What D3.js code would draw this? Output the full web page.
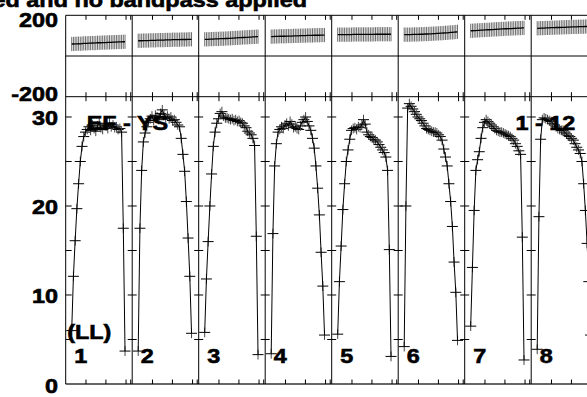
<!DOCTYPE html>
<html><head><meta charset="utf-8">
<script src="https://cdn.jsdelivr.net/npm/d3@7/dist/d3.min.js"></script>
<style>body{margin:0;background:#fff}svg{display:block}</style>
</head><body><svg id="c" width="587" height="397"></svg>
<script>
// ---- data ----
const panelLabels = ["1","2","3","4","5","6","7","8"];
const amp1 = [6.0,12.1,16.1,19.7,22.5,25.0,26.7,27.8,28.3,28.6,28.9,28.5,29.1,28.7,28.4,29.0,29.3,28.8,28.6,29.2,29.0,28.7,29.3,28.9,29.1,28.8,28.9,28.6,28.7,28.3,17.5,3.7];
const amp2 = [3.7,17.5,24.0,27.2,28.2,28.9,29.4,29.8,30.1,29.6,30.2,30.0,29.7,30.4,30.8,30.3,29.9,30.1,29.8,30.0,29.6,29.7,29.4,29.1,28.9,27.6,25.8,23.9,20.5,16.4,12.1,5.7];
const amp3 = [5.8,11.8,16.0,20.0,23.6,26.7,28.3,29.3,29.8,30.4,30.6,30.1,29.9,29.9,29.8,29.7,29.8,29.6,29.7,29.5,29.6,29.4,29.3,29.0,28.8,28.4,28.2,28.0,27.6,26.8,16.6,3.3];
const amp4 = [3.4,16.9,24.5,27.0,28.3,28.6,28.9,28.7,29.1,29.3,29.0,29.5,29.2,28.8,28.9,28.7,28.6,29.0,29.4,29.7,30.0,29.5,29.0,28.5,27.6,26.5,24.5,22.0,19.0,14.8,11.0,5.5];
const amp5 = [5.6,11.5,15.5,19.6,22.5,25.0,26.3,27.5,28.5,28.7,28.8,28.6,28.9,28.8,29.1,29.7,29.2,28.3,28.0,27.8,27.7,27.5,27.4,27.2,26.9,26.6,26.3,26.0,25.5,24.0,15.1,3.1];
const amp6 = [4.2,20.0,31.0,31.5,31.2,30.9,30.6,30.3,30.0,29.8,29.6,29.3,29.0,28.7,28.6,28.5,28.4,28.3,28.3,28.2,28.0,27.8,27.4,26.4,25.5,24.5,22.5,20.5,17.7,13.7,10.3,4.9];
const amp7 = [6.5,13.1,19.5,24.0,25.2,26.1,27.6,28.8,29.4,29.7,29.5,29.3,29.1,28.9,28.7,28.5,28.4,28.3,28.3,28.2,28.1,28.0,27.9,27.8,27.6,27.4,27.0,26.7,26.2,25.8,16.5,2.7];
const amp8 = [3.9,18.8,27.5,29.7,29.9,29.8,29.7,29.6,29.5,29.3,29.1,28.9,28.7,28.6,28.5,28.5,28.3,28.1,27.9,27.8,27.6,27.4,27.0,26.6,26.3,25.9,25.0,22.5,19.5,15.8,11.5,5.5];
const ph1 = [59,59,60,60,61,60,61,62,62,62,63,63,64,63,64,65,65,65,66,66,66,67,67,67,68,68,68,69,69,69,70,70];
const ph2 = [75,75,75,76,76,76,76,77,77,77,77,78,78,78,78,78,79,79,79,79,80,80,80,80,80,81,81,81,81,82,82,82];
const ph3 = [82,82,82,83,83,83,84,84,84,85,85,85,86,86,87,87,88,88,89,89,90,90,91,91,92,92,93,93,94,94,95,95];
const ph4 = [95,95,96,96,96,97,97,97,97,98,98,98,98,99,99,99,99,100,100,100,100,101,101,101,101,102,102,102,102,103,103,103];
const ph5 = [105,105,105,105,105,105,105,105,105,106,106,106,106,106,106,106,106,106,106,106,106,106,107,107,107,107,107,107,107,107,107,107];
const ph6 = [105,105,105,105,105,106,106,106,106,107,107,107,108,108,108,109,109,110,110,111,111,112,112,113,114,114,115,116,116,117,118,119];
const ph7 = [124,124,125,125,126,126,127,127,128,128,129,129,130,130,131,131,132,132,133,133,134,134,135,135,135,136,136,137,137,137,138,138];
const ph8 = [136,136,137,137,137,138,138,138,139,139,139,140,140,140,141,141,141,142,142,142,143,143,143,143,144,144,144,144,145,145,145,146];
const ampSeries = [amp1,amp2,amp3,amp4,amp5,amp6,amp7,amp8];
const phaseSeries = [ph1,ph2,ph3,ph4,ph5,ph6,ph7,ph8];
const ampTickValues = [5,10,15,20,25,30];
const ampLabelValues = [0,10,20,30];
const phaseLineValues = [200,0,-200];
const phaseLabelValues = [200,-200];
const xTickChannels = [8.3,19.9,31.6,34.3];
const ampErr = 0.55;
const phaseErr = 35;
const titleText = "ed and no bandpass applied";
const sourceText = "EF - YS";
const polText = "(LL)";
const ifRangeText = "1 - 12";

// ---- drawing ----
const W = 587, H = 397;
const svg = d3.select("#c");
svg.append("rect").attr("width", W).attr("height", H).attr("fill", "#fff");
const nBoxes = 9;
const panelX = d3.scaleLinear().domain([0, 9]).range([65.7, 664.2]);
const chanX = d3.scaleLinear().domain([-3.49, 35.17]).range([0, 66.5]);
const px = (p, c) => panelX(p) + chanX(c);
const yAmp = d3.scaleLinear().domain([0, 32.28]).range([384, 96.7]);
const yPh = d3.scaleLinear().domain([-200, 200]).range([96.7, 15.3]);
const xL = panelX(0), xEnd = panelX(nBoxes);

const g = svg.append("g").attr("stroke", "#000").attr("stroke-width", 1).attr("fill", "none");
function seg(x1, y1, x2, y2, col, w) {
  g.append("line").attr("x1", x1).attr("y1", y1).attr("x2", x2).attr("y2", y2)
    .attr("stroke", col || "#000").attr("stroke-width", w || 1);
}
// frames
phaseLineValues.forEach(v => seg(xL, yPh(v), xEnd, yPh(v)));
seg(xL, yAmp(0), xEnd, yAmp(0), "#333", 1.5);
d3.range(nBoxes + 1).forEach(p => seg(panelX(p), yPh(200), panelX(p), yAmp(0)));
// x ticks
d3.range(nBoxes).forEach(p => {
  xTickChannels.forEach(c => {
    const x = px(p, c);
    seg(x, yPh(200), x, yPh(200) + 4.5);
    seg(x, yPh(-200) - 4.5, x, yPh(-200) + 4.5);
    seg(x, yAmp(0) - 4.5, x, yAmp(0));
  });
});
// y ticks amp
ampTickValues.forEach(v => {
  seg(xL, yAmp(v), xL + 6, yAmp(v));
  d3.range(1, nBoxes + 1).forEach(p => seg(panelX(p) - 4.5, yAmp(v), panelX(p) + 4.5, yAmp(v)));
});

// phase data
phaseSeries.forEach((ser, p) => {
  ser.forEach((v, c) => seg(px(p, c), yPh(v + phaseErr), px(p, c), yPh(v - phaseErr), "#6e6e6e", 1));
  g.append("path").attr("d", d3.line().x((d, i) => px(p, i)).y(d => yPh(d))(ser))
    .attr("stroke", "#000").attr("stroke-width", 1.3);
});

// amplitude data
ampSeries.forEach((ser, p) => {
  ser.forEach((v, c) => {
    const x = px(p, c), y = yAmp(v);
    seg(x, yAmp(v + ampErr), x, yAmp(v - ampErr), "#444", 1);
    seg(x - 5.5, y, x + 5.5, y, "#000", 1);
  });
  g.append("path").attr("d", d3.line().x((d, i) => px(p, i)).y(d => yAmp(d))(ser))
    .attr("stroke", "#000").attr("stroke-width", 1);
});

// text
const tg = svg.append("g").attr("font-family", "'Liberation Sans', Arial, Helvetica, sans-serif")
  .attr("font-weight", "bold").attr("font-size", 20).attr("fill", "#000")
  .attr("stroke", "#000").attr("stroke-width", 0.6);
function label(x, y, t, anchor) {
  tg.append("text").attr("transform", `translate(${x},${y}) scale(1.17,1)`)
    .attr("text-anchor", anchor).text(t);
}
label(307, 7, titleText, "end");
label(58, yPh(phaseLabelValues[0]) + 11.4, String(phaseLabelValues[0]), "end");
label(58, yPh(phaseLabelValues[1]) + 3.8, String(phaseLabelValues[1]), "end");
ampLabelValues.forEach(v => label(58, yAmp(v) + 8.5, String(v), "end"));
label(86.7, 129.5, sourceText, "start");
label(515.5, 129.5, ifRangeText, "start");
label(67.2, 339, polText, "start");
panelLabels.forEach((t, p) => label(panelX(p) + 8.5, 363, t, "start"));
</script></body></html>
